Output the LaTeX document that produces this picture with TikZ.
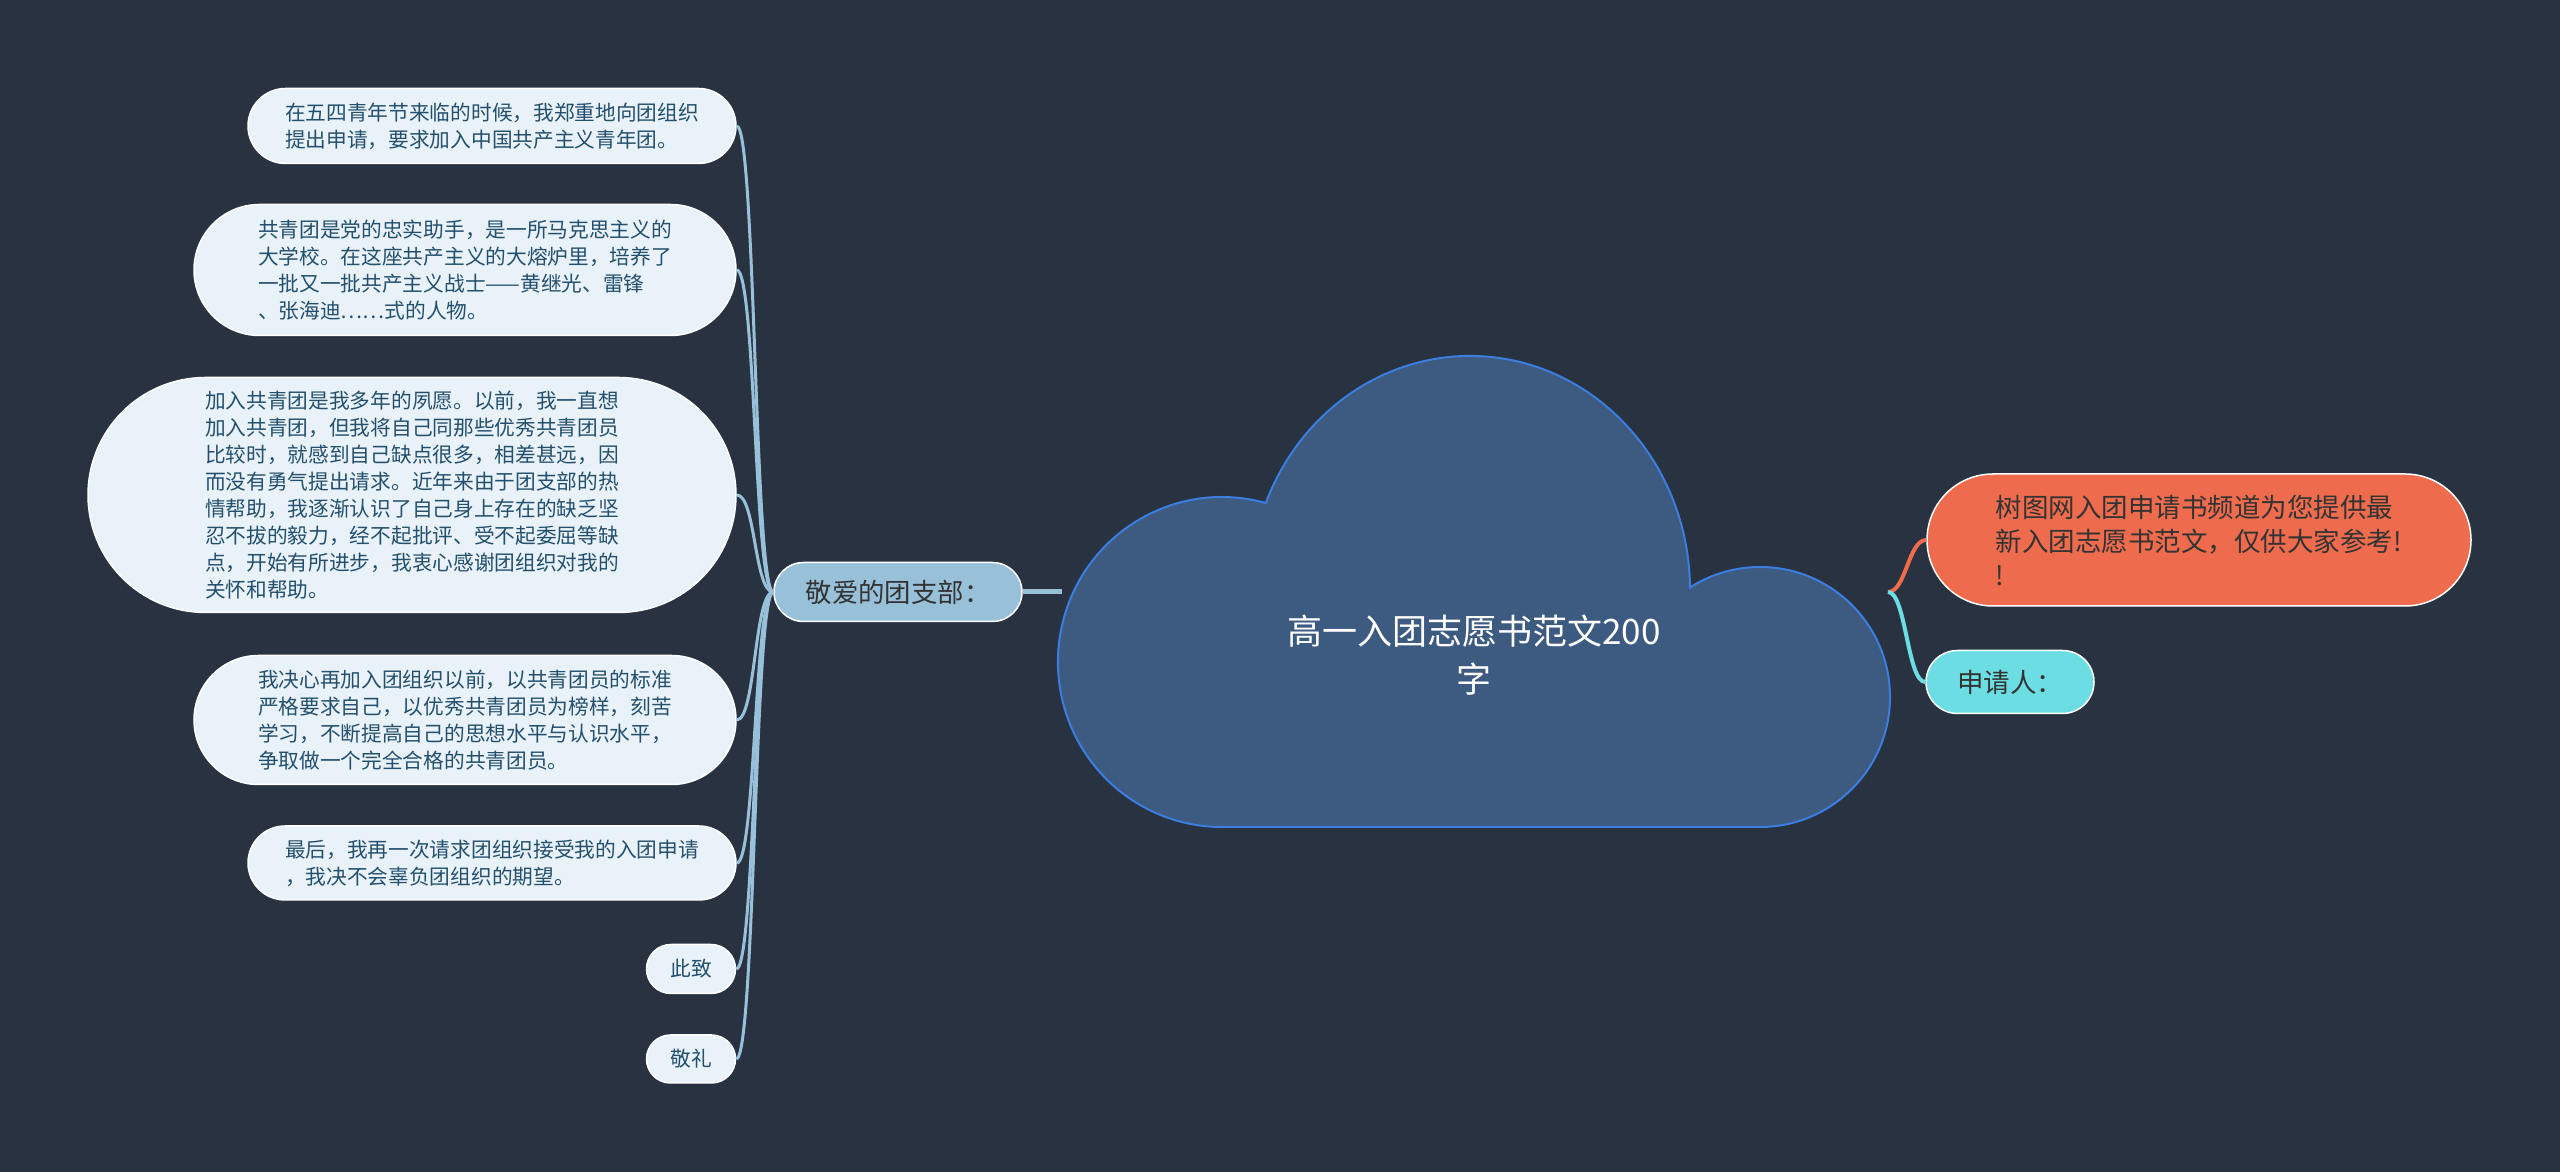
\documentclass[tikz,border=0pt]{standalone}
\usepackage{fontspec}
\setmainfont{Noto Sans CJK SC}
\usetikzlibrary{shapes.misc}
\definecolor{bgcol}{HTML}{293241}
\definecolor{cloudfill}{HTML}{3D5A80}
\definecolor{cloudline}{HTML}{3C7EE0}
\definecolor{branchfill}{HTML}{98C1D9}
\definecolor{leaffill}{HTML}{E8F2F8}
\definecolor{leaftext}{HTML}{24506E}
\definecolor{tipfill}{HTML}{EE6C4D}
\definecolor{namefill}{HTML}{6CDDE3}
\tikzset{
  pill/.style={rounded rectangle, draw=white, line width=1.5pt, inner sep=0pt},
  leaf/.style={pill, fill=leaffill, text=leaftext, align=left, font=\fontsize{20.7}{27}\selectfont},
  twig/.style={draw=branchfill, line width=3pt},
}
\begin{document}
\begin{tikzpicture}[x=1pt, y=1pt]
\useasboundingbox (0,0) rectangle (2560,1172);
\fill[bgcol] (0,0) rectangle (2560,1172);

\node[leaf, minimum width=488pt, minimum height=75pt] (wish) at (492,1046) {在五四青年节来临的时候，我郑重地向团组织\\提出申请，要求加入中国共产主义青年团。};
\node[leaf, minimum width=542pt, minimum height=131pt] (school) at (465,902) {共青团是党的忠实助手，是一所马克思主义的\\大学校。在这座共产主义的大熔炉里，培养了\\一批又一批共产主义战士——黄继光、雷锋\\、张海迪……式的人物。};
\node[leaf, minimum width=648pt, minimum height=235pt] (dream) at (412,677) {加入共青团是我多年的夙愿。以前，我一直想\\加入共青团，但我将自己同那些优秀共青团员\\比较时，就感到自己缺点很多，相差甚远，因\\而没有勇气提出请求。近年来由于团支部的热\\情帮助，我逐渐认识了自己身上存在的缺乏坚\\忍不拔的毅力，经不起批评、受不起委屈等缺\\点，开始有所进步，我衷心感谢团组织对我的\\关怀和帮助。};
\node[leaf, minimum width=542pt, minimum height=129pt] (resolve) at (465,452) {我决心再加入团组织以前，以共青团员的标准\\严格要求自己，以优秀共青团员为榜样，刻苦\\学习，不断提高自己的思想水平与认识水平，\\争取做一个完全合格的共青团员。};
\node[leaf, minimum width=488pt, minimum height=74pt] (request) at (492,309) {最后，我再一次请求团组织接受我的入团申请\\，我决不会辜负团组织的期望。};
\node[leaf, minimum width=89pt, minimum height=49pt] (cizhi) at (691,203) {此致};
\node[leaf, minimum width=89pt, minimum height=48pt] (jingli) at (691,113) {敬礼};

\node[pill, fill=branchfill, text=black!80, minimum width=248pt, minimum height=59pt, font=\fontsize{26.4}{32}\selectfont] (branch) at (898,580) {敬爱的团支部：};

\node[pill, fill=tipfill, text=black!80, align=left, minimum width=544pt, minimum height=132pt, font=\fontsize{26.5}{34}\selectfont] (tip) at (2199,632) {树图网入团申请书频道为您提供最\\新入团志愿书范文，仅供大家参考!\\!};
\node[pill, fill=namefill, text=black!80, minimum width=168pt, minimum height=63pt, font=\fontsize{26.5}{34}\selectfont] (applicant) at (2010,490) {申请人：};

\coordinate (cloudW) at (1062,580);
\coordinate (cloudE) at (1888,580);

\foreach \leafname in {wish,school,dream,resolve,request,cizhi,jingli}
  \draw[twig] (branch.west) .. controls +(-19,0) and +(19,0) .. (\leafname.east);
\draw[branchfill, line width=5pt] (branch.east) -- (cloudW);
\draw[tipfill, line width=4pt] (cloudE) .. controls +(18,0) and +(-18,0) .. (tip.west);
\draw[namefill, line width=4pt] (cloudE) .. controls +(18,0) and +(-18,0) .. (applicant.west);

\draw[cloudline, fill=cloudfill, line width=2pt] (1222,345) -- (1760,345)
  arc[start angle=-90, end angle=122.6, radius=130pt]
  arc[start angle=0.6, end angle=158.2, x radius=220pt, y radius=234pt]
  arc[start angle=74.5, end angle=270, x radius=164pt, y radius=165pt] -- cycle;
\node[text=white, align=center, font=\fontsize{35}{48}\selectfont] (title) at (1474,517) {高一入团志愿书范文200\\字};
\end{tikzpicture}
\end{document}
